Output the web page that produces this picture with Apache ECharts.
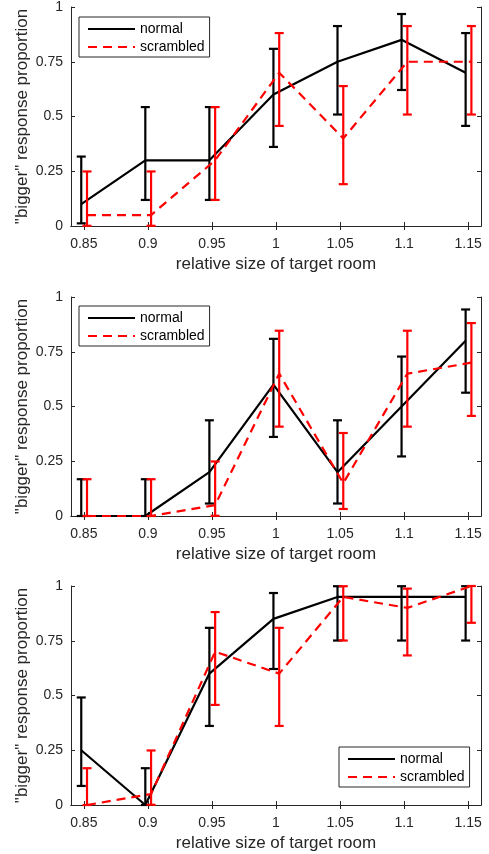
<!DOCTYPE html>
<html>
<head>
<meta charset="utf-8">
<script src="https://cdn.jsdelivr.net/npm/echarts@6/dist/echarts.min.js"></script>
<style>
html,body{margin:0;padding:0;background:#fff;}
#chart{width:489px;height:854px;}
</style>
</head>
<body>
<div id="chart"></div>
<script>
// ---- data ----
const xValues = [0.85, 0.9, 0.95, 1.0, 1.05, 1.1, 1.15];
const xTickValues = [0.85, 0.9, 0.95, 1.0, 1.05, 1.1, 1.15];
const yTickValues = [0, 0.25, 0.5, 0.75, 1];
const seriesNames = ['normal', 'scrambled'];

// panel 1
const normal1   = [0.10, 0.30, 0.30, 0.60, 0.75, 0.85, 0.70];
const normal1Lo = [0.012, 0.119, 0.119, 0.361, 0.509, 0.621, 0.457];
const normal1Hi = [0.317, 0.543, 0.543, 0.809, 0.913, 0.968, 0.881];
const scr1      = [0.05, 0.05, 0.30, 0.70, 0.40, 0.75, 0.75];
const scr1Lo    = [0.001, 0.001, 0.119, 0.457, 0.191, 0.509, 0.509];
const scr1Hi    = [0.249, 0.249, 0.543, 0.881, 0.639, 0.913, 0.913];

// panel 2
const normal2   = [0, 0, 0.20, 0.60, 0.20, 0.50, 0.80];
const normal2Lo = [0, 0, 0.057, 0.361, 0.057, 0.272, 0.563];
const normal2Hi = [0.168, 0.168, 0.437, 0.809, 0.437, 0.728, 0.943];
const scr2      = [0, 0, 0.05, 0.65, 0.15, 0.65, 0.70];
const scr2Lo    = [0, 0, 0.001, 0.408, 0.032, 0.408, 0.457];
const scr2Hi    = [0.168, 0.168, 0.249, 0.846, 0.379, 0.846, 0.881];

// panel 3
const normal3   = [0.25, 0, 0.60, 0.85, 0.95, 0.95, 0.95];
const normal3Lo = [0.087, 0, 0.361, 0.621, 0.751, 0.751, 0.751];
const normal3Hi = [0.491, 0.168, 0.809, 0.968, 0.999, 0.999, 0.999];
const scr3      = [0, 0.05, 0.70, 0.60, 0.95, 0.90, 1.00];
const scr3Lo    = [0, 0.001, 0.457, 0.361, 0.751, 0.683, 0.832];
const scr3Hi    = [0.168, 0.249, 0.881, 0.809, 0.999, 0.988, 1.0];

const xLabel = 'relative size of target room';
const yLabel = '"bigger" response proportion';

// ---- styles ----
const AX = '#262626';
const FONT = '"Liberation Sans", Arial, Helvetica, sans-serif';
const BLACK = '#000000';
const RED = '#ff0000';
const LW = 2.2;
const DX_NORMAL = -0.002;
const DX_SCR = 0.0025;

const panels = [
  {n: normal1, nLo: normal1Lo, nHi: normal1Hi, s: scr1, sLo: scr1Lo, sHi: scr1Hi},
  {n: normal2, nLo: normal2Lo, nHi: normal2Hi, s: scr2, sLo: scr2Lo, sHi: scr2Hi},
  {n: normal3, nLo: normal3Lo, nHi: normal3Hi, s: scr3, sLo: scr3Lo, sHi: scr3Hi}
];
const gridTops = [7, 297, 586];
const legendPos = [
  {left: 79, top: 17},
  {left: 79, top: 306},
  {left: 339, top: 747}
];

function errRender(color) {
  return function (params, api) {
    const x = api.value(0), lo = api.value(1), hi = api.value(2);
    const pHi = api.coord([x, hi]);
    const pLo = api.coord([x, lo]);
    const hw = 4.5;
    const st = {stroke: color, lineWidth: LW, fill: null};
    return {
      type: 'group',
      children: [
        {type: 'line', shape: {x1: pHi[0], y1: pHi[1], x2: pLo[0], y2: pLo[1]}, style: st},
        {type: 'line', shape: {x1: pHi[0] - hw, y1: pHi[1], x2: pHi[0] + hw, y2: pHi[1]}, style: st},
        {type: 'line', shape: {x1: pLo[0] - hw, y1: pLo[1], x2: pLo[0] + hw, y2: pLo[1]}, style: st}
      ]
    };
  };
}

const grid = [], xAxis = [], yAxis = [], series = [], legend = [];

panels.forEach((p, i) => {
  grid.push({left: 71, right: 8, top: gridTops[i], height: 219, show: false});
  const xBase = {
    type: 'value', gridIndex: i, min: 0.84, max: 1.16,
    splitLine: {show: false},
    axisLine: {show: true, lineStyle: {color: AX, width: 1}},
    axisTick: {show: true, inside: true, length: 4, customValues: xTickValues, lineStyle: {color: AX}}
  };
  xAxis.push(Object.assign({}, xBase, {
    position: 'bottom',
    axisLabel: {show: true, customValues: xTickValues, color: AX, fontSize: 14, fontFamily: FONT, margin: 11,
      formatter: v => String(+v.toFixed(2))},
    name: xLabel, nameLocation: 'middle', nameGap: 30, nameMoveOverlap: false,
    nameTextStyle: {color: AX, fontSize: 17, fontFamily: FONT}
  }));
  xAxis.push(Object.assign({}, xBase, {position: 'top', axisLabel: {show: false}}));
  const yBase = {
    type: 'value', gridIndex: i, min: 0, max: 1, interval: 0.25,
    splitLine: {show: false},
    axisLine: {show: true, lineStyle: {color: AX, width: 1}},
    axisTick: {show: true, inside: true, length: 4, customValues: yTickValues, lineStyle: {color: AX}}
  };
  yAxis.push(Object.assign({}, yBase, {
    position: 'left',
    axisLabel: {show: true, customValues: yTickValues, color: AX, fontSize: 14, fontFamily: FONT, margin: 8,
      formatter: v => String(+v.toFixed(2))},
    name: yLabel, nameLocation: 'middle', nameGap: 40, nameRotate: 90, nameMoveOverlap: false,
    nameTextStyle: {color: AX, fontSize: 17, fontFamily: FONT}
  }));
  yAxis.push(Object.assign({}, yBase, {position: 'right', axisLabel: {show: false}}));

  const xi = i * 2, yi = i * 2;
  const nErr = xValues.map((x, k) => [x + DX_NORMAL, p.nLo[k], p.nHi[k]]);
  const sErr = xValues.map((x, k) => [x + DX_SCR, p.sLo[k], p.sHi[k]]);
  series.push({
    type: 'custom', xAxisIndex: xi, yAxisIndex: yi, data: nErr, clip: false, z: 2,
    encode: {x: 0, y: [1, 2]}, renderItem: errRender(BLACK), silent: true
  });
  series.push({
    type: 'line', name: seriesNames[0], xAxisIndex: xi, yAxisIndex: yi, z: 3,
    data: xValues.map((x, k) => [x + DX_NORMAL, p.n[k]]),
    symbol: 'none', clip: false, animation: false,
    lineStyle: {color: BLACK, width: LW}, itemStyle: {color: BLACK}
  });
  series.push({
    type: 'custom', xAxisIndex: xi, yAxisIndex: yi, data: sErr, clip: false, z: 4,
    encode: {x: 0, y: [1, 2]}, renderItem: errRender(RED), silent: true
  });
  series.push({
    type: 'line', name: seriesNames[1], xAxisIndex: xi, yAxisIndex: yi, z: 5,
    data: xValues.map((x, k) => [x + DX_SCR, p.s[k]]),
    symbol: 'none', clip: false, animation: false,
    lineStyle: {color: RED, width: LW, type: [9, 6]}, itemStyle: {color: RED}
  });

  legend.push({
    data: seriesNames, orient: 'vertical', left: legendPos[i].left, top: legendPos[i].top,
    itemWidth: 47, itemHeight: 14, itemGap: 4,
    padding: [5, 5, 3, 8],
    borderColor: AX, borderWidth: 1, backgroundColor: '#fff',
    itemStyle: {opacity: 0},
    textStyle: {color: '#000', fontSize: 14, fontFamily: FONT},
    selectedMode: false
  });
});

const chart = echarts.init(document.getElementById('chart'), null, {renderer: 'canvas'});
chart.setOption({
  animation: false,
  backgroundColor: '#fff',
  grid, xAxis, yAxis, series, legend
});
</script>
</body>
</html>
